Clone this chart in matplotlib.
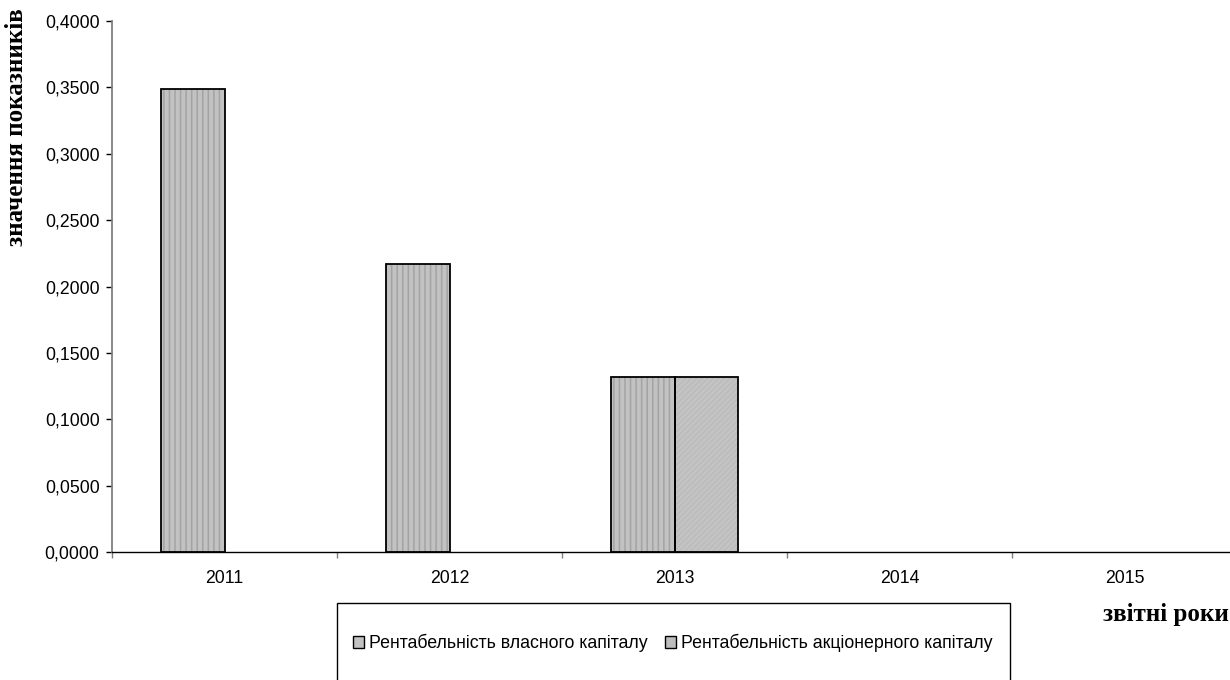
import matplotlib
matplotlib.use("Agg")
import matplotlib.pyplot as plt
from matplotlib.patches import Rectangle, Patch
import numpy as np

years = ["2011", "2012", "2013", "2014", "2015"]
equity_return = [0.3488, 0.2169, 0.1318, 0.0, 0.0]
share_capital_return = [0.0, 0.0, 0.1318, 0.0, 0.0]
series_names = ["Рентабельність власного капіталу", "Рентабельність акціонерного капіталу"]
y_ticks = [0.0, 0.05, 0.10, 0.15, 0.20, 0.25, 0.30, 0.35, 0.40]

plt.rcParams['font.family'] = ['Liberation Sans', 'DejaVu Sans']
plt.rcParams['hatch.linewidth'] = 1.1

W, H = 1230, 680
fig = plt.figure(figsize=(W / 100, H / 100), dpi=100)
ax = fig.add_axes([112 / W, 1 - 552 / H, 1125 / W, 531 / H])

x = np.arange(len(years))
bw = 0.284

styles = [
    dict(face="#c2c2c2", hatch="|||", hcol="#a3a3a3"),
    dict(face="#bdbdbd", hatch="//////", hcol="#c6c6c6"),
]
series = [equity_return, share_capital_return]
offsets = [-bw / 2, bw / 2]

for vals, off, st in zip(series, offsets, styles):
    for xi, v in zip(x, vals):
        if v <= 0:
            continue
        # fill with texture, then a crisp black outline on top
        ax.bar(xi + off, v, width=bw, color=st["face"], hatch=st["hatch"],
               edgecolor=st["hcol"], linewidth=0, zorder=2)
        ax.bar(xi + off, v, width=bw, fill=False, edgecolor="black",
               linewidth=1.3, zorder=3)

tick_fs = 12.7
ax.set_xlim(-0.5, len(years) - 0.5)
ax.set_ylim(0, 0.4)
ax.set_yticks(y_ticks)
ax.set_yticklabels([f"{t:.4f}".replace(".", ",") for t in y_ticks], fontsize=tick_fs)
ax.set_xticks(x)
ax.set_xticklabels(years, fontsize=tick_fs)
ax.set_xticks(np.arange(len(years) + 1) - 0.5, minor=True)
ax.tick_params(axis="x", which="major", length=0, pad=13)
ax.tick_params(axis="x", which="minor", length=4, width=1, color="#808080", direction="out")
ax.tick_params(axis="y", length=4, width=1, color="black", direction="out", pad=5)

for s in ["top", "right"]:
    ax.spines[s].set_visible(False)
ax.spines["left"].set_color("#808080")
ax.spines["left"].set_linewidth(1.3)
ax.spines["bottom"].set_color("black")
ax.spines["bottom"].set_linewidth(1.0)

# axis titles
serif = ["Liberation Serif", "DejaVu Serif"]
fig.text(17 / W, 1 - 127 / H, "значення показників", rotation=90,
         ha="center", va="center", fontsize=18, fontweight="bold", family=serif)
fig.text(1229 / W, 1 - 615 / H, "звітні роки", ha="right", va="center",
         fontsize=18, fontweight="bold", family=serif)

# legend frame
fig.patches.append(Rectangle((337 / W, 1 - 700 / H), (1010 - 337) / W, (700 - 603) / H,
                             transform=fig.transFigure, fill=False,
                             edgecolor="black", linewidth=1.0))
handles = [Patch(facecolor=st["face"], edgecolor="black", linewidth=1.0) for st in styles]
fig.legend(handles, series_names, loc="center", bbox_to_anchor=(673 / W, 1 - 643 / H),
           ncol=2, frameon=False, fontsize=12.8, handlelength=0.6, handleheight=0.6,
           handletextpad=0.3, columnspacing=1.0)

fig.savefig("out.png", dpi=100)
